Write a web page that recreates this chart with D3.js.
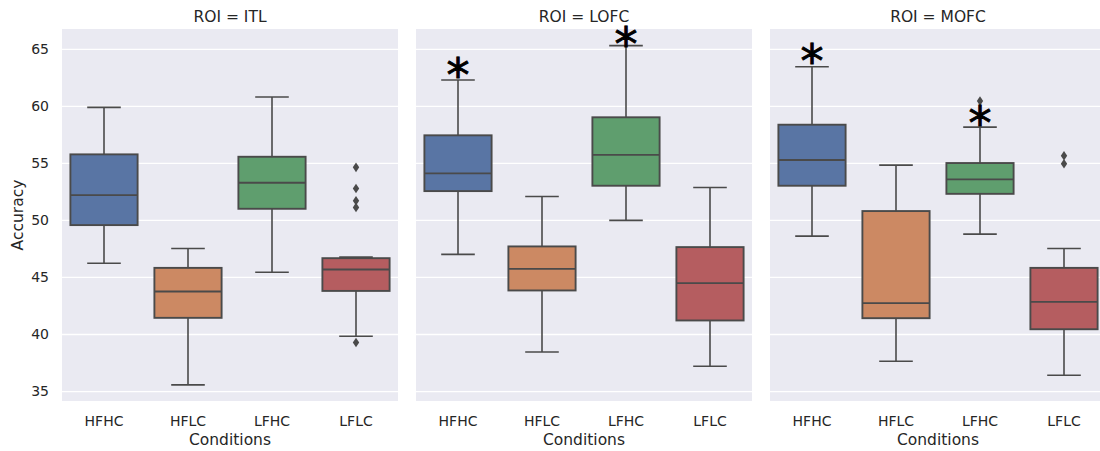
<!DOCTYPE html>
<html>
<head>
<meta charset="utf-8">
<script src="https://cdn.jsdelivr.net/npm/d3@7"></script>
<style>
  body { margin: 0; background: #fff; }
  svg text { font-family: "DejaVu Sans", sans-serif; fill: #262626; }
</style>
</head>
<body>
<div id="chart"></div>
<script>
// facet columns and categories
var rois = ["ITL", "LOFC", "MOFC"];
var conditions = ["HFHC", "HFLC", "LFHC", "LFLC"];
var yTicks = [35, 40, 45, 50, 55, 60, 65];

// box stats per condition: [whisker low, q1, median, q3, whisker high]
var itlStats = [
  [46.25, 49.59, 52.22, 55.79, 59.91],
  [35.58, 41.46, 43.77, 45.84, 47.54],
  [45.46, 51.02, 53.30, 55.58, 60.82],
  [39.85, 43.82, 45.70, 46.69, 46.78]
];
var lofcStats = [
  [47.02, 52.57, 54.12, 57.46, 62.31],
  [38.47, 43.86, 45.75, 47.72, 52.10],
  [50.00, 53.04, 55.75, 59.04, 65.32],
  [37.22, 41.23, 44.50, 47.66, 52.89]
];
var mofcStats = [
  [48.62, 53.04, 55.29, 58.39, 63.47],
  [37.66, 41.43, 42.75, 50.82, 54.85],
  [48.80, 52.33, 53.60, 55.03, 58.18],
  [36.43, 40.46, 42.86, 45.84, 47.54]
];

// outliers per condition
var itlFliers = [[], [], [], [54.65, 52.80, 51.72, 51.14, 39.30]];
var lofcFliers = [[], [], [], []];
var mofcFliers = [[], [], [60.47], [55.67, 54.97]];

// significance stars (value where the * sits), null = none
var itlStars = [null, null, null, null];
var lofcStars = [63.6, null, 66.32, null];
var mofcStars = [64.87, null, 59.4, null];

var allStats = [itlStats, lofcStats, mofcStats];
var allFliers = [itlFliers, lofcFliers, mofcFliers];
var allStars = [itlStars, lofcStars, mofcStars];

var colors = ["#5975a4", "#cc8963", "#5f9e6e", "#b55d60"];
var lineColor = "#4a4a4a";

var W = 1100, H = 451;
var panelLeft = [62, 416, 770];
var panelW = 336;
var plotTop = 29, plotBottom = 401;
var starSize = 46;

var svg = d3.select("#chart").append("svg")
    .attr("width", W)
    .attr("height", H);

var y = d3.scaleLinear()
    .domain([34.17, 66.78])
    .range([plotBottom, plotTop]);

var x = d3.scaleBand()
    .domain(conditions)
    .range([0, panelW])
    .padding(0);

var boxW = x.bandwidth() * 0.8;
var capW = boxW * 0.5;

rois.forEach(function(roi, p) {
  var g = svg.append("g")
      .attr("transform", "translate(" + panelLeft[p] + ",0)");

  // background
  g.append("rect")
      .attr("x", 0).attr("y", plotTop)
      .attr("width", panelW).attr("height", plotBottom - plotTop)
      .attr("fill", "#eaeaf2");

  // grid lines
  g.selectAll(".grid")
      .data(yTicks)
    .enter().append("line")
      .attr("x1", 0).attr("x2", panelW)
      .attr("y1", function(d) { return y(d); })
      .attr("y2", function(d) { return y(d); })
      .attr("stroke", "#fff")
      .attr("stroke-width", 1.3);

  // y tick labels only on first panel
  if (p == 0) {
    g.selectAll(".ytick")
        .data(yTicks)
      .enter().append("text")
        .attr("x", -13)
        .attr("y", function(d) { return y(d); })
        .attr("dy", "0.35em")
        .attr("text-anchor", "end")
        .style("font-size", "14px")
        .text(function(d) { return d; });

    g.append("text")
        .attr("transform", "translate(-39," + ((plotTop + plotBottom) / 2) + ") rotate(-90)")
        .attr("text-anchor", "middle")
        .style("font-size", "15.5px")
        .text("Accuracy");
  }

  // title
  g.append("text")
      .attr("x", panelW / 2).attr("y", 21.5)
      .attr("text-anchor", "middle")
      .style("font-size", "15.5px")
      .text("ROI = " + roi);

  // x tick labels
  g.selectAll(".xtick")
      .data(conditions)
    .enter().append("text")
      .attr("x", function(d) { return x(d) + x.bandwidth() / 2; })
      .attr("y", 426)
      .attr("text-anchor", "middle")
      .style("font-size", "14px")
      .text(function(d) { return d; });

  g.append("text")
      .attr("x", panelW / 2).attr("y", 445)
      .attr("text-anchor", "middle")
      .style("font-size", "15.5px")
      .text("Conditions");

  var stats = allStats[p];
  conditions.forEach(function(c, i) {
    var s = stats[i];
    var cx = x(c) + x.bandwidth() / 2;
    var bg = g.append("g");

    // whiskers
    bg.append("line")
        .attr("x1", cx).attr("x2", cx)
        .attr("y1", y(s[0])).attr("y2", y(s[1]))
        .attr("stroke", lineColor).attr("stroke-width", 1.6);
    bg.append("line")
        .attr("x1", cx).attr("x2", cx)
        .attr("y1", y(s[3])).attr("y2", y(s[4]))
        .attr("stroke", lineColor).attr("stroke-width", 1.6);
    // caps
    [s[0], s[4]].forEach(function(v) {
      bg.append("line")
          .attr("x1", cx - capW / 2).attr("x2", cx + capW / 2)
          .attr("y1", y(v)).attr("y2", y(v))
          .attr("stroke", lineColor).attr("stroke-width", 1.6);
    });
    // box
    bg.append("rect")
        .attr("x", cx - boxW / 2)
        .attr("y", y(s[3]))
        .attr("width", boxW)
        .attr("height", y(s[1]) - y(s[3]))
        .attr("fill", colors[i])
        .attr("stroke", lineColor)
        .attr("stroke-width", 1.9);
    // median
    bg.append("line")
        .attr("x1", cx - boxW / 2).attr("x2", cx + boxW / 2)
        .attr("y1", y(s[2])).attr("y2", y(s[2]))
        .attr("stroke", lineColor).attr("stroke-width", 1.9);

    // fliers (thin diamonds)
    bg.selectAll(".flier")
        .data(allFliers[p][i])
      .enter().append("path")
        .attr("d", function(d) {
          var fy = y(d);
          return "M" + cx + "," + (fy - 4.8) + "L" + (cx + 3.2) + "," + fy +
                 "L" + cx + "," + (fy + 4.8) + "L" + (cx - 3.2) + "," + fy + "Z";
        })
        .attr("fill", lineColor);

    // significance star
    var st = allStars[p][i];
    if (st != null) {
      g.append("text")
          .attr("x", cx)
          .attr("y", y(st) + 0.57 * starSize)
          .attr("text-anchor", "middle")
          .style("font-size", starSize + "px")
          .style("fill", "#000")
          .style("stroke", "#000")
          .style("stroke-width", 0.9)
          .text("*");
    }
  });
});
</script>
</body>
</html>
